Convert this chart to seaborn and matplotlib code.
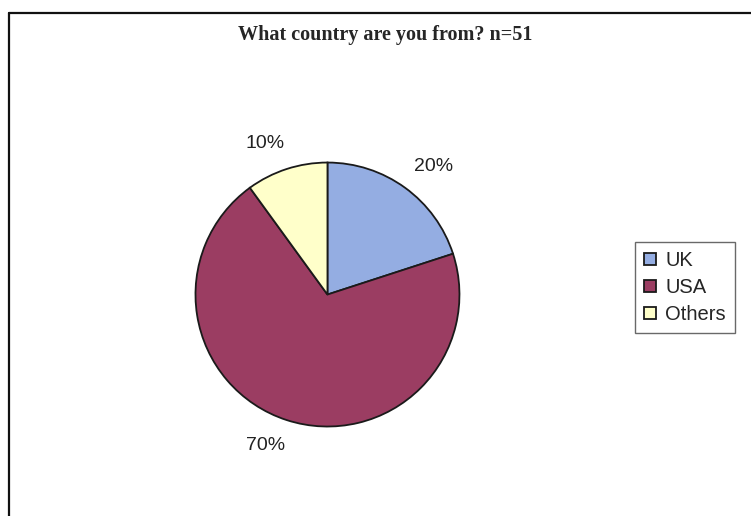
import matplotlib
matplotlib.use('Agg')
import numpy as np
import matplotlib.pyplot as plt
import seaborn as sns
from matplotlib.lines import Line2D

sns.set_style('white')
plt.rcParams['font.family'] = ['Liberation Sans', 'DejaVu Sans']

# data
countries = ['UK', 'USA', 'Others']
shares = [20, 70, 10]
title = 'What country are you from? n=51'

colours = sns.color_palette(['#94ADE2', '#9B3D62', '#FFFFCA'])

fig = plt.figure(figsize=(7.51, 5.16), dpi=100)
fig.patch.set_facecolor('white')

# pie area: centre ~ (328, 295) px, radius ~ 132 px
ax = fig.add_axes([0.2603, 0.1734, 0.3515, 0.5116])
wedges, texts, pcts = ax.pie(shares, colors=colours, startangle=90, counterclock=False,
                             autopct='%1.0f%%', pctdistance=1.2,
                             wedgeprops=dict(edgecolor='#1a1a1a', linewidth=1.3))
for t in pcts:
    t.set_fontsize(14)
    t.set_color('#222222')
    # excel-ish: push labels sideways away from the pie
    x, y = t.get_position()
    t.set_position((x + 0.1 * np.sign(x), y))
ax.set_xlim(-1, 1)
ax.set_ylim(-1, 1)
ax.set_aspect('equal')
ax.axis('off')

fig.text(385 / 751, 1 - 35 / 516, title, ha='center', va='center',
         family='Liberation Serif', fontweight='bold', fontsize=14.5)

leg = fig.legend(wedges, countries, loc='upper left', bbox_to_anchor=(635 / 751, 1 - 242 / 516),
                 frameon=True, fancybox=False, fontsize=14.5, handlelength=0.6, handleheight=0.6,
                 handletextpad=0.45, labelspacing=0.4, borderpad=0.45, borderaxespad=0)
leg.get_frame().set_edgecolor('#444444')
leg.get_frame().set_linewidth(1.0)

# outer chart frame (top and left only visible in the scan)
fig.add_artist(Line2D([9 / 751, 9 / 751], [0, 1 - 13 / 516], transform=fig.transFigure,
                      color='#111111', linewidth=1.6))
fig.add_artist(Line2D([9 / 751, 1], [1 - 13 / 516, 1 - 13 / 516], transform=fig.transFigure,
                      color='#111111', linewidth=1.6))

fig.savefig('out.png', dpi=100)
